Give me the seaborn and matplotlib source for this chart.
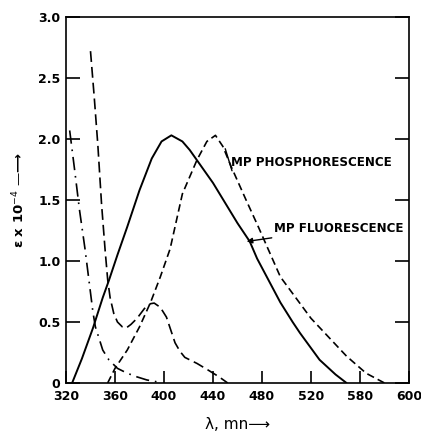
import matplotlib
matplotlib.use("Agg")
import matplotlib.pyplot as plt
import seaborn as sns
import pandas as pd

# ---- data ----
fluor_x = [325, 333, 342, 350, 355, 362, 370, 380, 390, 398, 406, 415, 421, 440, 460, 470, 476, 495, 505, 511, 527, 540, 549]
fluor_y = [0.0, 0.2, 0.45, 0.7, 0.84, 1.05, 1.28, 1.58, 1.84, 1.98, 2.03, 1.98, 1.91, 1.64, 1.31, 1.16, 1.02, 0.66, 0.5, 0.41, 0.19, 0.07, 0.0]

phos_x = [354, 360, 370, 380, 389, 397, 405, 415, 427, 435, 442, 448, 455, 467, 477, 495, 520, 549, 565, 580]
phos_y = [0.0, 0.12, 0.27, 0.46, 0.66, 0.87, 1.1, 1.55, 1.83, 1.98, 2.03, 1.94, 1.77, 1.5, 1.28, 0.87, 0.53, 0.22, 0.08, 0.0]

abs_x = [340, 343, 346, 349, 352, 354, 356, 359, 362, 366, 369, 373, 378, 384, 389, 392, 397, 402, 406, 409, 413, 417, 427, 437, 445, 452]
abs_y = [2.72, 2.35, 1.95, 1.47, 1.08, 0.85, 0.7, 0.57, 0.5, 0.46, 0.45, 0.48, 0.53, 0.61, 0.65, 0.655, 0.62, 0.54, 0.42, 0.33, 0.26, 0.21, 0.16, 0.1, 0.05, 0.0]

dd_x = [323, 327, 331, 335.5, 339, 342, 344, 350, 355, 362, 370, 378, 386, 394, 398]
dd_y = [2.07, 1.75, 1.42, 1.1, 0.82, 0.58, 0.46, 0.27, 0.19, 0.12, 0.08, 0.05, 0.025, 0.01, 0.0]

x_ticks = [320, 360, 400, 440, 480, 520, 560, 600]
x_tick_labels = ["320", "360", "400", "440", "480", "520", "580", "600"]
y_ticks = [0, 0.5, 1.0, 1.5, 2.0, 2.5, 3.0]
y_tick_labels = ["0", "0.5", "1.0", "1.5", "2.0", "2.5", "3.0"]

sns.set_style("ticks")
plt.rcParams['font.family'] = ['DejaVu Sans']
plt.rcParams.update({"text.color": "black", "axes.labelcolor": "black",
                     "xtick.color": "black", "ytick.color": "black"})

fig = plt.figure(figsize=(4.21, 4.34), dpi=100)
ax = fig.add_axes([66/421, 51/434, 343/421, 366/434])

sns.lineplot(data=pd.DataFrame({"x": fluor_x, "y": fluor_y}), x="x", y="y", ax=ax,
             color="black", lw=1.4, sort=False)
sns.lineplot(data=pd.DataFrame({"x": phos_x, "y": phos_y}), x="x", y="y", ax=ax,
             color="black", lw=1.2, sort=False, linestyle=(0, (4.5, 2.5)))
sns.lineplot(data=pd.DataFrame({"x": abs_x, "y": abs_y}), x="x", y="y", ax=ax,
             color="black", lw=1.2, sort=False, linestyle=(0, (6.5, 3)))
sns.lineplot(data=pd.DataFrame({"x": dd_x, "y": dd_y}), x="x", y="y", ax=ax,
             color="black", lw=1.2, sort=False, linestyle=(0, (8, 3.5, 1, 3.5)))

ax.set_xlim(320, 600)
ax.set_ylim(0, 3.0)
ax.set_xticks(x_ticks)
ax.set_xticklabels(x_tick_labels, fontsize=9, fontweight="bold")
ax.set_yticks(y_ticks)
ax.set_yticklabels(y_tick_labels, fontsize=9, fontweight="bold")
ax.tick_params(axis="both", direction="in", length=10, width=1.2, color="black",
               labelcolor="black", right=True, top=False, pad=4)
ax.tick_params(axis="x", length=9, pad=5)
for s in ax.spines.values():
    s.set_visible(True)
    s.set_linewidth(1.2)
    s.set_color("black")

ax.set_xlabel("λ, mn⟶", fontsize=11, labelpad=10, color="black")
ax.set_ylabel("ε x 10$^{-4}$ —⟶", fontsize=9.5, fontweight="bold", labelpad=8,
              color="black")

ax.text(455, 1.81, "MP PHOSPHORESCENCE", fontsize=8.6, fontweight="bold",
        va="center", ha="left", color="black")
ax.plot([450, 455.5], [1.92, 1.74], color="black", lw=1.0)
ax.annotate("MP FLUORESCENCE", xy=(467.5, 1.16), xytext=(490, 1.27),
            fontsize=8.6, fontweight="bold", va="center", ha="left", color="black",
            arrowprops=dict(arrowstyle="-|>", color="black", lw=1.0,
                            mutation_scale=8, shrinkA=0, shrinkB=0))

fig.savefig("out.png", dpi=100)
